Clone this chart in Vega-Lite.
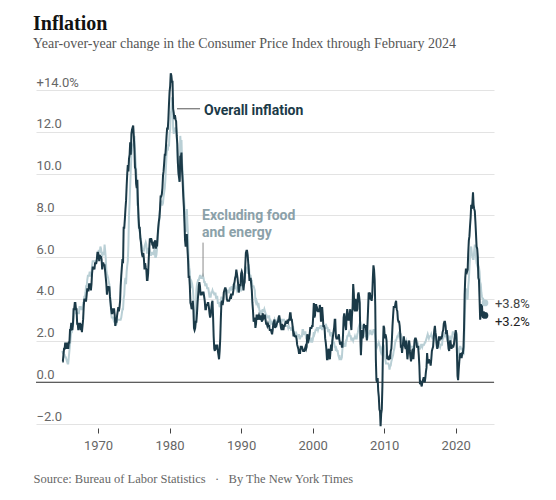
{
"$schema": "https://vega.github.io/schema/vega-lite/v6.json",
"width": 458, "height": 334,
"autosize": "none",
"padding": {"left": 36, "top": 90, "right": 62, "bottom": 76},
"background": "white",
"config": {"view": {"stroke": null}, "font": "Roboto"},
"title": {"text": "Inflation", "subtitle": "Year-over-year change in the Consumer Price Index through February 2024", "anchor": "start", "frame": "group", "dx": -3, "offset": 18, "font": "Liberation Serif", "fontSize": 20, "fontWeight": "bold", "color": "#121212", "subtitleFont": "Liberation Serif", "subtitleFontSize": 14, "subtitleColor": "#555555", "subtitlePadding": 3},
"datasets": {
"cpi": [
{"d":"1965-01","a":1.0,"c":1.5},{"d":"1965-02","a":1.0,"c":1.4},{"d":"1965-03","a":1.3,"c":1.4},{"d":"1965-04","a":1.6,"c":1.3},{"d":"1965-05","a":1.6,"c":1.3},{"d":"1965-06","a":1.9,"c":1.2},{"d":"1965-07","a":1.6,"c":1.2},{"d":"1965-08","a":1.9,"c":1.1},{"d":"1965-09","a":1.6,"c":1.0},{"d":"1965-10","a":1.9,"c":0.9},{"d":"1965-11","a":1.6,"c":0.9},{"d":"1965-12","a":1.9,"c":1.2},
{"d":"1966-01","a":1.9,"c":1.5},{"d":"1966-02","a":2.5,"c":1.8},{"d":"1966-03","a":2.5,"c":2.1},{"d":"1966-04","a":2.8,"c":2.4},{"d":"1966-05","a":2.8,"c":2.4},{"d":"1966-06","a":2.5,"c":2.7},{"d":"1966-07","a":2.8,"c":2.7},{"d":"1966-08","a":3.5,"c":3.0},{"d":"1966-09","a":3.5,"c":3.3},{"d":"1966-10","a":3.8,"c":3.3},{"d":"1966-11","a":3.8,"c":3.6},{"d":"1966-12","a":3.5,"c":3.3},
{"d":"1967-01","a":3.5,"c":3.3},{"d":"1967-02","a":2.8,"c":3.3},{"d":"1967-03","a":2.8,"c":3.3},{"d":"1967-04","a":2.5,"c":3.3},{"d":"1967-05","a":2.8,"c":3.3},{"d":"1967-06","a":2.8,"c":3.6},{"d":"1967-07","a":2.8,"c":3.6},{"d":"1967-08","a":2.5,"c":3.6},{"d":"1967-09","a":2.8,"c":3.5},{"d":"1967-10","a":2.4,"c":3.5},{"d":"1967-11","a":2.7,"c":3.5},{"d":"1967-12","a":3.0,"c":3.8},
{"d":"1968-01","a":3.6,"c":3.8},{"d":"1968-02","a":4.0,"c":4.1},{"d":"1968-03","a":3.9,"c":4.1},{"d":"1968-04","a":3.9,"c":4.3},{"d":"1968-05","a":3.9,"c":4.6},{"d":"1968-06","a":4.2,"c":4.6},{"d":"1968-07","a":4.5,"c":4.9},{"d":"1968-08","a":4.4,"c":5.1},{"d":"1968-09","a":4.4,"c":5.1},{"d":"1968-10","a":4.7,"c":5.1},{"d":"1968-11","a":4.7,"c":5.3},{"d":"1968-12","a":4.7,"c":5.1},
{"d":"1969-01","a":4.4,"c":5.1},{"d":"1969-02","a":4.7,"c":5.1},{"d":"1969-03","a":5.2,"c":5.6},{"d":"1969-04","a":5.5,"c":5.8},{"d":"1969-05","a":5.5,"c":5.8},{"d":"1969-06","a":5.5,"c":5.8},{"d":"1969-07","a":5.4,"c":5.8},{"d":"1969-08","a":5.7,"c":5.8},{"d":"1969-09","a":5.7,"c":5.8},{"d":"1969-10","a":5.7,"c":5.8},{"d":"1969-11","a":5.9,"c":5.8},{"d":"1969-12","a":6.2,"c":6.1},
{"d":"1970-01","a":6.2,"c":6.1},{"d":"1970-02","a":6.1,"c":6.3},{"d":"1970-03","a":5.8,"c":6.3},{"d":"1970-04","a":6.1,"c":6.2},{"d":"1970-05","a":6.0,"c":6.5},{"d":"1970-06","a":6.0,"c":6.4},{"d":"1970-07","a":5.9,"c":6.2},{"d":"1970-08","a":5.4,"c":6.0},{"d":"1970-09","a":5.7,"c":6.2},{"d":"1970-10","a":5.7,"c":6.2},{"d":"1970-11","a":5.6,"c":6.1},{"d":"1970-12","a":5.6,"c":6.6},
{"d":"1971-01","a":5.3,"c":6.3},{"d":"1971-02","a":5.0,"c":5.9},{"d":"1971-03","a":4.7,"c":5.4},{"d":"1971-04","a":4.2,"c":5.2},{"d":"1971-05","a":4.4,"c":5.1},{"d":"1971-06","a":4.6,"c":5.0},{"d":"1971-07","a":4.4,"c":4.8},{"d":"1971-08","a":4.6,"c":4.7},{"d":"1971-09","a":4.1,"c":4.2},{"d":"1971-10","a":3.8,"c":3.9},{"d":"1971-11","a":3.5,"c":3.3},{"d":"1971-12","a":3.3,"c":3.1},
{"d":"1972-01","a":3.3,"c":3.1},{"d":"1972-02","a":3.5,"c":3.1},{"d":"1972-03","a":3.5,"c":3.0},{"d":"1972-04","a":3.5,"c":2.9},{"d":"1972-05","a":3.2,"c":2.9},{"d":"1972-06","a":2.7,"c":2.7},{"d":"1972-07","a":2.9,"c":2.8},{"d":"1972-08","a":2.9,"c":2.8},{"d":"1972-09","a":3.2,"c":3.0},{"d":"1972-10","a":3.4,"c":3.0},{"d":"1972-11","a":3.6,"c":3.0},{"d":"1972-12","a":3.4,"c":3.0},
{"d":"1973-01","a":3.6,"c":3.0},{"d":"1973-02","a":3.9,"c":3.0},{"d":"1973-03","a":4.6,"c":3.0},{"d":"1973-04","a":5.1,"c":3.1},{"d":"1973-05","a":5.5,"c":3.3},{"d":"1973-06","a":5.9,"c":3.5},{"d":"1973-07","a":5.7,"c":3.5},{"d":"1973-08","a":7.4,"c":4.0},{"d":"1973-09","a":7.4,"c":4.2},{"d":"1973-10","a":7.8,"c":4.8},{"d":"1973-11","a":8.3,"c":5.0},{"d":"1973-12","a":8.7,"c":4.7},
{"d":"1974-01","a":9.4,"c":5.3},{"d":"1974-02","a":10.0,"c":5.6},{"d":"1974-03","a":10.4,"c":5.8},{"d":"1974-04","a":10.1,"c":6.6},{"d":"1974-05","a":10.7,"c":8.0},{"d":"1974-06","a":10.9,"c":8.6},{"d":"1974-07","a":11.5,"c":9.4},{"d":"1974-08","a":10.9,"c":10.2},{"d":"1974-09","a":11.9,"c":10.9},{"d":"1974-10","a":12.1,"c":11.1},{"d":"1974-11","a":12.2,"c":11.3},{"d":"1974-12","a":12.3,"c":11.4},
{"d":"1975-01","a":11.8,"c":11.5},{"d":"1975-02","a":11.2,"c":11.8},{"d":"1975-03","a":10.3,"c":11.1},{"d":"1975-04","a":10.2,"c":10.6},{"d":"1975-05","a":9.5,"c":10.2},{"d":"1975-06","a":9.3,"c":9.5},{"d":"1975-07","a":9.7,"c":8.5},{"d":"1975-08","a":8.6,"c":8.5},{"d":"1975-09","a":7.9,"c":7.5},{"d":"1975-10","a":7.4,"c":7.3},{"d":"1975-11","a":7.4,"c":7.2},{"d":"1975-12","a":6.9,"c":7.0},
{"d":"1976-01","a":6.7,"c":6.8},{"d":"1976-02","a":6.3,"c":6.6},{"d":"1976-03","a":6.1,"c":6.4},{"d":"1976-04","a":6.0,"c":6.3},{"d":"1976-05","a":6.2,"c":6.3},{"d":"1976-06","a":5.9,"c":6.3},{"d":"1976-07","a":5.4,"c":6.5},{"d":"1976-08","a":5.7,"c":6.6},{"d":"1976-09","a":5.5,"c":6.7},{"d":"1976-10","a":5.4,"c":6.6},{"d":"1976-11","a":4.9,"c":6.2},{"d":"1976-12","a":4.9,"c":6.2},
{"d":"1977-01","a":5.2,"c":6.4},{"d":"1977-02","a":5.9,"c":6.4},{"d":"1977-03","a":6.4,"c":6.4},{"d":"1977-04","a":6.9,"c":6.3},{"d":"1977-05","a":6.7,"c":6.1},{"d":"1977-06","a":6.9,"c":6.1},{"d":"1977-07","a":6.8,"c":6.2},{"d":"1977-08","a":6.6,"c":6.2},{"d":"1977-09","a":6.6,"c":6.2},{"d":"1977-10","a":6.4,"c":6.1},{"d":"1977-11","a":6.7,"c":6.3},{"d":"1977-12","a":6.7,"c":6.4},
{"d":"1978-01","a":6.8,"c":6.0},{"d":"1978-02","a":6.4,"c":6.0},{"d":"1978-03","a":6.6,"c":6.1},{"d":"1978-04","a":6.5,"c":6.4},{"d":"1978-05","a":7.0,"c":6.8},{"d":"1978-06","a":7.4,"c":7.2},{"d":"1978-07","a":7.7,"c":7.6},{"d":"1978-08","a":7.9,"c":7.8},{"d":"1978-09","a":8.3,"c":8.3},{"d":"1978-10","a":8.9,"c":8.6},{"d":"1978-11","a":8.9,"c":8.7},{"d":"1978-12","a":9.0,"c":8.5},
{"d":"1979-01","a":9.3,"c":8.5},{"d":"1979-02","a":9.9,"c":8.6},{"d":"1979-03","a":10.1,"c":8.9},{"d":"1979-04","a":10.5,"c":9.1},{"d":"1979-05","a":10.9,"c":9.3},{"d":"1979-06","a":10.9,"c":9.7},{"d":"1979-07","a":11.3,"c":10.3},{"d":"1979-08","a":11.8,"c":10.9},{"d":"1979-09","a":12.2,"c":11.2},{"d":"1979-10","a":12.1,"c":11.1},{"d":"1979-11","a":12.6,"c":11.4},{"d":"1979-12","a":13.3,"c":11.3},
{"d":"1980-01","a":13.9,"c":11.9},{"d":"1980-02","a":14.2,"c":12.1},{"d":"1980-03","a":14.8,"c":12.9},{"d":"1980-04","a":14.7,"c":13.0},{"d":"1980-05","a":14.4,"c":13.6},{"d":"1980-06","a":14.4,"c":13.6},{"d":"1980-07","a":13.1,"c":12.2},{"d":"1980-08","a":12.9,"c":11.9},{"d":"1980-09","a":12.6,"c":12.0},{"d":"1980-10","a":12.8,"c":12.2},{"d":"1980-11","a":12.6,"c":12.1},{"d":"1980-12","a":12.5,"c":12.2},
{"d":"1981-01","a":11.8,"c":11.9},{"d":"1981-02","a":11.4,"c":11.0},{"d":"1981-03","a":10.5,"c":10.5},{"d":"1981-04","a":10.0,"c":10.2},{"d":"1981-05","a":9.8,"c":9.6},{"d":"1981-06","a":9.6,"c":9.8},{"d":"1981-07","a":10.8,"c":11.8},{"d":"1981-08","a":10.8,"c":11.3},{"d":"1981-09","a":11.0,"c":11.6},{"d":"1981-10","a":10.1,"c":10.5},{"d":"1981-11","a":9.6,"c":10.1},{"d":"1981-12","a":8.9,"c":9.5},
{"d":"1982-01","a":8.4,"c":9.0},{"d":"1982-02","a":7.6,"c":8.4},{"d":"1982-03","a":6.8,"c":7.5},{"d":"1982-04","a":6.5,"c":7.2},{"d":"1982-05","a":6.7,"c":7.8},{"d":"1982-06","a":7.1,"c":8.3},{"d":"1982-07","a":6.4,"c":7.6},{"d":"1982-08","a":5.9,"c":7.0},{"d":"1982-09","a":5.0,"c":5.8},{"d":"1982-10","a":5.1,"c":5.5},{"d":"1982-11","a":4.6,"c":5.3},{"d":"1982-12","a":3.8,"c":4.5},
{"d":"1983-01","a":3.7,"c":4.7},{"d":"1983-02","a":3.5,"c":4.8},{"d":"1983-03","a":3.6,"c":4.7},{"d":"1983-04","a":3.9,"c":4.5},{"d":"1983-05","a":3.5,"c":4.1},{"d":"1983-06","a":2.6,"c":3.4},{"d":"1983-07","a":2.5,"c":3.0},{"d":"1983-08","a":2.6,"c":2.9},{"d":"1983-09","a":2.9,"c":2.9},{"d":"1983-10","a":2.9,"c":4.4},{"d":"1983-11","a":3.3,"c":4.7},{"d":"1983-12","a":3.8,"c":4.8},
{"d":"1984-01","a":4.2,"c":4.9},{"d":"1984-02","a":4.6,"c":4.9},{"d":"1984-03","a":4.8,"c":5.0},{"d":"1984-04","a":4.6,"c":5.1},{"d":"1984-05","a":4.2,"c":5.1},{"d":"1984-06","a":4.2,"c":5.0},{"d":"1984-07","a":4.2,"c":5.0},{"d":"1984-08","a":4.3,"c":5.0},{"d":"1984-09","a":4.3,"c":5.1},{"d":"1984-10","a":4.3,"c":5.0},{"d":"1984-11","a":4.1,"c":4.8},{"d":"1984-12","a":3.9,"c":4.8},
{"d":"1985-01","a":3.5,"c":4.6},{"d":"1985-02","a":3.5,"c":4.7},{"d":"1985-03","a":3.7,"c":4.7},{"d":"1985-04","a":3.7,"c":4.5},{"d":"1985-05","a":3.8,"c":4.5},{"d":"1985-06","a":3.8,"c":4.5},{"d":"1985-07","a":3.6,"c":4.3},{"d":"1985-08","a":3.3,"c":4.1},{"d":"1985-09","a":3.1,"c":4.1},{"d":"1985-10","a":3.2,"c":4.1},{"d":"1985-11","a":3.5,"c":4.3},{"d":"1985-12","a":3.8,"c":4.3},
{"d":"1986-01","a":3.9,"c":4.4},{"d":"1986-02","a":3.1,"c":4.3},{"d":"1986-03","a":2.2,"c":4.3},{"d":"1986-04","a":1.6,"c":4.2},{"d":"1986-05","a":1.5,"c":4.2},{"d":"1986-06","a":1.8,"c":4.3},{"d":"1986-07","a":1.6,"c":4.0},{"d":"1986-08","a":1.6,"c":4.1},{"d":"1986-09","a":1.8,"c":4.1},{"d":"1986-10","a":1.5,"c":3.8},{"d":"1986-11","a":1.3,"c":3.8},{"d":"1986-12","a":1.1,"c":3.8},
{"d":"1987-01","a":1.5,"c":3.6},{"d":"1987-02","a":2.1,"c":3.7},{"d":"1987-03","a":3.0,"c":3.9},{"d":"1987-04","a":3.8,"c":4.1},{"d":"1987-05","a":3.9,"c":3.9},{"d":"1987-06","a":3.7,"c":3.9},{"d":"1987-07","a":3.9,"c":4.0},{"d":"1987-08","a":4.3,"c":4.0},{"d":"1987-09","a":4.4,"c":4.2},{"d":"1987-10","a":4.5,"c":4.3},{"d":"1987-11","a":4.5,"c":4.3},{"d":"1987-12","a":4.4,"c":4.2},
{"d":"1988-01","a":4.0,"c":4.4},{"d":"1988-02","a":3.9,"c":4.4},{"d":"1988-03","a":3.9,"c":4.4},{"d":"1988-04","a":3.9,"c":4.3},{"d":"1988-05","a":3.9,"c":4.3},{"d":"1988-06","a":4.0,"c":4.5},{"d":"1988-07","a":4.1,"c":4.5},{"d":"1988-08","a":4.0,"c":4.4},{"d":"1988-09","a":4.2,"c":4.6},{"d":"1988-10","a":4.2,"c":4.5},{"d":"1988-11","a":4.2,"c":4.4},{"d":"1988-12","a":4.4,"c":4.7},
{"d":"1989-01","a":4.7,"c":4.5},{"d":"1989-02","a":4.8,"c":4.5},{"d":"1989-03","a":5.0,"c":4.5},{"d":"1989-04","a":5.1,"c":4.6},{"d":"1989-05","a":5.4,"c":4.5},{"d":"1989-06","a":5.2,"c":4.4},{"d":"1989-07","a":5.0,"c":4.5},{"d":"1989-08","a":4.7,"c":4.5},{"d":"1989-09","a":4.3,"c":4.3},{"d":"1989-10","a":4.5,"c":4.4},{"d":"1989-11","a":4.7,"c":4.4},{"d":"1989-12","a":4.6,"c":4.4},
{"d":"1990-01","a":5.2,"c":4.4},{"d":"1990-02","a":5.3,"c":4.6},{"d":"1990-03","a":5.2,"c":5.1},{"d":"1990-04","a":4.7,"c":4.9},{"d":"1990-05","a":4.4,"c":4.8},{"d":"1990-06","a":4.7,"c":5.0},{"d":"1990-07","a":4.8,"c":5.0},{"d":"1990-08","a":5.6,"c":5.5},{"d":"1990-09","a":6.2,"c":5.5},{"d":"1990-10","a":6.3,"c":5.3},{"d":"1990-11","a":6.3,"c":5.3},{"d":"1990-12","a":6.1,"c":5.2},
{"d":"1991-01","a":5.7,"c":5.6},{"d":"1991-02","a":5.3,"c":5.6},{"d":"1991-03","a":4.9,"c":5.2},{"d":"1991-04","a":4.9,"c":5.1},{"d":"1991-05","a":5.0,"c":5.1},{"d":"1991-06","a":4.7,"c":4.8},{"d":"1991-07","a":4.4,"c":4.9},{"d":"1991-08","a":3.8,"c":4.6},{"d":"1991-09","a":3.4,"c":4.6},{"d":"1991-10","a":2.9,"c":4.6},{"d":"1991-11","a":3.0,"c":4.5},{"d":"1991-12","a":3.1,"c":4.4},
{"d":"1992-01","a":2.6,"c":3.9},{"d":"1992-02","a":2.8,"c":3.8},{"d":"1992-03","a":3.2,"c":3.9},{"d":"1992-04","a":3.2,"c":3.8},{"d":"1992-05","a":3.0,"c":3.7},{"d":"1992-06","a":3.1,"c":3.8},{"d":"1992-07","a":3.2,"c":3.6},{"d":"1992-08","a":3.1,"c":3.4},{"d":"1992-09","a":3.0,"c":3.3},{"d":"1992-10","a":3.2,"c":3.4},{"d":"1992-11","a":3.0,"c":3.4},{"d":"1992-12","a":2.9,"c":3.3},
{"d":"1993-01","a":3.3,"c":3.5},{"d":"1993-02","a":3.2,"c":3.4},{"d":"1993-03","a":3.1,"c":3.4},{"d":"1993-04","a":3.2,"c":3.5},{"d":"1993-05","a":3.2,"c":3.4},{"d":"1993-06","a":3.0,"c":3.3},{"d":"1993-07","a":2.8,"c":3.2},{"d":"1993-08","a":2.8,"c":3.2},{"d":"1993-09","a":2.7,"c":3.1},{"d":"1993-10","a":2.8,"c":3.1},{"d":"1993-11","a":2.7,"c":3.1},{"d":"1993-12","a":2.7,"c":3.2},
{"d":"1994-01","a":2.5,"c":2.9},{"d":"1994-02","a":2.5,"c":2.8},{"d":"1994-03","a":2.5,"c":2.9},{"d":"1994-04","a":2.4,"c":2.8},{"d":"1994-05","a":2.3,"c":2.8},{"d":"1994-06","a":2.5,"c":2.9},{"d":"1994-07","a":2.8,"c":2.9},{"d":"1994-08","a":2.9,"c":2.9},{"d":"1994-09","a":3.0,"c":3.0},{"d":"1994-10","a":2.6,"c":2.9},{"d":"1994-11","a":2.7,"c":2.8},{"d":"1994-12","a":2.7,"c":2.6},
{"d":"1995-01","a":2.8,"c":2.9},{"d":"1995-02","a":2.9,"c":3.0},{"d":"1995-03","a":2.9,"c":3.0},{"d":"1995-04","a":3.1,"c":3.1},{"d":"1995-05","a":3.2,"c":3.1},{"d":"1995-06","a":3.0,"c":3.0},{"d":"1995-07","a":2.8,"c":3.0},{"d":"1995-08","a":2.6,"c":3.0},{"d":"1995-09","a":2.5,"c":2.9},{"d":"1995-10","a":2.8,"c":3.0},{"d":"1995-11","a":2.6,"c":3.0},{"d":"1995-12","a":2.5,"c":3.0},
{"d":"1996-01","a":2.7,"c":3.0},{"d":"1996-02","a":2.7,"c":2.9},{"d":"1996-03","a":2.8,"c":2.8},{"d":"1996-04","a":2.9,"c":2.7},{"d":"1996-05","a":2.9,"c":2.7},{"d":"1996-06","a":2.8,"c":2.7},{"d":"1996-07","a":3.0,"c":2.7},{"d":"1996-08","a":2.9,"c":2.6},{"d":"1996-09","a":3.0,"c":2.7},{"d":"1996-10","a":3.0,"c":2.6},{"d":"1996-11","a":3.3,"c":2.6},{"d":"1996-12","a":3.3,"c":2.6},
{"d":"1997-01","a":3.0,"c":2.5},{"d":"1997-02","a":3.0,"c":2.5},{"d":"1997-03","a":2.8,"c":2.5},{"d":"1997-04","a":2.5,"c":2.7},{"d":"1997-05","a":2.2,"c":2.5},{"d":"1997-06","a":2.3,"c":2.4},{"d":"1997-07","a":2.2,"c":2.4},{"d":"1997-08","a":2.2,"c":2.3},{"d":"1997-09","a":2.2,"c":2.2},{"d":"1997-10","a":2.1,"c":2.3},{"d":"1997-11","a":1.8,"c":2.2},{"d":"1997-12","a":1.7,"c":2.2},
{"d":"1998-01","a":1.6,"c":2.2},{"d":"1998-02","a":1.4,"c":2.3},{"d":"1998-03","a":1.4,"c":2.1},{"d":"1998-04","a":1.4,"c":2.1},{"d":"1998-05","a":1.7,"c":2.2},{"d":"1998-06","a":1.7,"c":2.2},{"d":"1998-07","a":1.7,"c":2.2},{"d":"1998-08","a":1.6,"c":2.5},{"d":"1998-09","a":1.5,"c":2.5},{"d":"1998-10","a":1.5,"c":2.3},{"d":"1998-11","a":1.5,"c":2.3},{"d":"1998-12","a":1.6,"c":2.4},
{"d":"1999-01","a":1.7,"c":2.4},{"d":"1999-02","a":1.6,"c":2.1},{"d":"1999-03","a":1.7,"c":2.1},{"d":"1999-04","a":2.3,"c":2.2},{"d":"1999-05","a":2.1,"c":2.0},{"d":"1999-06","a":2.0,"c":2.1},{"d":"1999-07","a":2.1,"c":2.1},{"d":"1999-08","a":2.3,"c":1.9},{"d":"1999-09","a":2.6,"c":2.0},{"d":"1999-10","a":2.6,"c":2.1},{"d":"1999-11","a":2.6,"c":2.1},{"d":"1999-12","a":2.7,"c":1.9},
{"d":"2000-01","a":2.7,"c":2.0},{"d":"2000-02","a":3.2,"c":2.2},{"d":"2000-03","a":3.8,"c":2.4},{"d":"2000-04","a":3.1,"c":2.3},{"d":"2000-05","a":3.2,"c":2.4},{"d":"2000-06","a":3.7,"c":2.5},{"d":"2000-07","a":3.7,"c":2.5},{"d":"2000-08","a":3.4,"c":2.6},{"d":"2000-09","a":3.5,"c":2.6},{"d":"2000-10","a":3.4,"c":2.5},{"d":"2000-11","a":3.4,"c":2.6},{"d":"2000-12","a":3.4,"c":2.6},
{"d":"2001-01","a":3.7,"c":2.6},{"d":"2001-02","a":3.5,"c":2.7},{"d":"2001-03","a":2.9,"c":2.7},{"d":"2001-04","a":3.3,"c":2.6},{"d":"2001-05","a":3.6,"c":2.5},{"d":"2001-06","a":3.2,"c":2.7},{"d":"2001-07","a":2.7,"c":2.7},{"d":"2001-08","a":2.7,"c":2.7},{"d":"2001-09","a":2.6,"c":2.6},{"d":"2001-10","a":2.1,"c":2.6},{"d":"2001-11","a":1.9,"c":2.8},{"d":"2001-12","a":1.6,"c":2.7},
{"d":"2002-01","a":1.1,"c":2.6},{"d":"2002-02","a":1.1,"c":2.6},{"d":"2002-03","a":1.5,"c":2.4},{"d":"2002-04","a":1.6,"c":2.5},{"d":"2002-05","a":1.2,"c":2.5},{"d":"2002-06","a":1.1,"c":2.3},{"d":"2002-07","a":1.5,"c":2.2},{"d":"2002-08","a":1.8,"c":2.4},{"d":"2002-09","a":1.5,"c":2.2},{"d":"2002-10","a":2.0,"c":2.2},{"d":"2002-11","a":2.2,"c":2.0},{"d":"2002-12","a":2.4,"c":1.9},
{"d":"2003-01","a":2.6,"c":1.9},{"d":"2003-02","a":3.0,"c":1.7},{"d":"2003-03","a":3.0,"c":1.7},{"d":"2003-04","a":2.2,"c":1.5},{"d":"2003-05","a":2.1,"c":1.6},{"d":"2003-06","a":2.1,"c":1.5},{"d":"2003-07","a":2.1,"c":1.5},{"d":"2003-08","a":2.2,"c":1.3},{"d":"2003-09","a":2.3,"c":1.2},{"d":"2003-10","a":2.0,"c":1.3},{"d":"2003-11","a":1.8,"c":1.1},{"d":"2003-12","a":1.9,"c":1.1},
{"d":"2004-01","a":1.9,"c":1.1},{"d":"2004-02","a":1.7,"c":1.2},{"d":"2004-03","a":1.7,"c":1.6},{"d":"2004-04","a":2.3,"c":1.8},{"d":"2004-05","a":3.1,"c":1.7},{"d":"2004-06","a":3.3,"c":1.9},{"d":"2004-07","a":3.0,"c":1.8},{"d":"2004-08","a":2.7,"c":1.7},{"d":"2004-09","a":2.5,"c":2.0},{"d":"2004-10","a":3.2,"c":2.0},{"d":"2004-11","a":3.5,"c":2.2},{"d":"2004-12","a":3.3,"c":2.2},
{"d":"2005-01","a":3.0,"c":2.3},{"d":"2005-02","a":3.0,"c":2.4},{"d":"2005-03","a":3.1,"c":2.3},{"d":"2005-04","a":3.5,"c":2.2},{"d":"2005-05","a":2.8,"c":2.2},{"d":"2005-06","a":2.5,"c":2.0},{"d":"2005-07","a":3.2,"c":2.1},{"d":"2005-08","a":3.6,"c":2.1},{"d":"2005-09","a":4.7,"c":2.0},{"d":"2005-10","a":4.3,"c":2.1},{"d":"2005-11","a":3.5,"c":2.1},{"d":"2005-12","a":3.4,"c":2.2},
{"d":"2006-01","a":4.0,"c":2.1},{"d":"2006-02","a":3.6,"c":2.1},{"d":"2006-03","a":3.4,"c":2.1},{"d":"2006-04","a":3.5,"c":2.3},{"d":"2006-05","a":4.2,"c":2.4},{"d":"2006-06","a":4.3,"c":2.6},{"d":"2006-07","a":4.1,"c":2.7},{"d":"2006-08","a":3.8,"c":2.8},{"d":"2006-09","a":2.1,"c":2.9},{"d":"2006-10","a":1.3,"c":2.7},{"d":"2006-11","a":2.0,"c":2.6},{"d":"2006-12","a":2.5,"c":2.6},
{"d":"2007-01","a":2.1,"c":2.7},{"d":"2007-02","a":2.4,"c":2.7},{"d":"2007-03","a":2.8,"c":2.5},{"d":"2007-04","a":2.6,"c":2.3},{"d":"2007-05","a":2.7,"c":2.2},{"d":"2007-06","a":2.7,"c":2.2},{"d":"2007-07","a":2.4,"c":2.2},{"d":"2007-08","a":2.0,"c":2.1},{"d":"2007-09","a":2.8,"c":2.1},{"d":"2007-10","a":3.5,"c":2.2},{"d":"2007-11","a":4.3,"c":2.3},{"d":"2007-12","a":4.1,"c":2.4},
{"d":"2008-01","a":4.3,"c":2.5},{"d":"2008-02","a":4.0,"c":2.3},{"d":"2008-03","a":4.0,"c":2.4},{"d":"2008-04","a":3.9,"c":2.3},{"d":"2008-05","a":4.2,"c":2.3},{"d":"2008-06","a":5.0,"c":2.4},{"d":"2008-07","a":5.6,"c":2.5},{"d":"2008-08","a":5.4,"c":2.5},{"d":"2008-09","a":4.9,"c":2.5},{"d":"2008-10","a":3.7,"c":2.2},{"d":"2008-11","a":1.1,"c":2.0},{"d":"2008-12","a":0.1,"c":1.8},
{"d":"2009-01","a":0.0,"c":1.7},{"d":"2009-02","a":0.2,"c":1.8},{"d":"2009-03","a":-0.4,"c":1.8},{"d":"2009-04","a":-0.7,"c":1.9},{"d":"2009-05","a":-1.3,"c":1.8},{"d":"2009-06","a":-1.4,"c":1.7},{"d":"2009-07","a":-2.1,"c":1.5},{"d":"2009-08","a":-1.5,"c":1.4},{"d":"2009-09","a":-1.3,"c":1.5},{"d":"2009-10","a":-0.2,"c":1.7},{"d":"2009-11","a":1.8,"c":1.7},{"d":"2009-12","a":2.7,"c":1.8},
{"d":"2010-01","a":2.6,"c":1.6},{"d":"2010-02","a":2.1,"c":1.3},{"d":"2010-03","a":2.3,"c":1.1},{"d":"2010-04","a":2.2,"c":0.9},{"d":"2010-05","a":2.0,"c":0.9},{"d":"2010-06","a":1.1,"c":0.9},{"d":"2010-07","a":1.2,"c":0.9},{"d":"2010-08","a":1.1,"c":0.9},{"d":"2010-09","a":1.1,"c":0.8},{"d":"2010-10","a":1.2,"c":0.6},{"d":"2010-11","a":1.1,"c":0.8},{"d":"2010-12","a":1.5,"c":0.8},
{"d":"2011-01","a":1.6,"c":1.0},{"d":"2011-02","a":2.1,"c":1.1},{"d":"2011-03","a":2.7,"c":1.2},{"d":"2011-04","a":3.2,"c":1.3},{"d":"2011-05","a":3.6,"c":1.5},{"d":"2011-06","a":3.6,"c":1.6},{"d":"2011-07","a":3.6,"c":1.8},{"d":"2011-08","a":3.8,"c":2.0},{"d":"2011-09","a":3.9,"c":2.0},{"d":"2011-10","a":3.5,"c":2.1},{"d":"2011-11","a":3.4,"c":2.2},{"d":"2011-12","a":3.0,"c":2.2},
{"d":"2012-01","a":2.9,"c":2.3},{"d":"2012-02","a":2.9,"c":2.2},{"d":"2012-03","a":2.7,"c":2.3},{"d":"2012-04","a":2.3,"c":2.3},{"d":"2012-05","a":1.7,"c":2.3},{"d":"2012-06","a":1.7,"c":2.2},{"d":"2012-07","a":1.4,"c":2.1},{"d":"2012-08","a":1.7,"c":1.9},{"d":"2012-09","a":2.0,"c":2.0},{"d":"2012-10","a":2.2,"c":2.0},{"d":"2012-11","a":1.8,"c":1.9},{"d":"2012-12","a":1.7,"c":1.9},
{"d":"2013-01","a":1.6,"c":1.9},{"d":"2013-02","a":2.0,"c":2.0},{"d":"2013-03","a":1.5,"c":1.9},{"d":"2013-04","a":1.1,"c":1.7},{"d":"2013-05","a":1.4,"c":1.7},{"d":"2013-06","a":1.8,"c":1.6},{"d":"2013-07","a":2.0,"c":1.7},{"d":"2013-08","a":1.5,"c":1.8},{"d":"2013-09","a":1.2,"c":1.7},{"d":"2013-10","a":1.0,"c":1.7},{"d":"2013-11","a":1.2,"c":1.7},{"d":"2013-12","a":1.5,"c":1.7},
{"d":"2014-01","a":1.6,"c":1.6},{"d":"2014-02","a":1.1,"c":1.6},{"d":"2014-03","a":1.5,"c":1.7},{"d":"2014-04","a":2.0,"c":1.8},{"d":"2014-05","a":2.1,"c":2.0},{"d":"2014-06","a":2.1,"c":1.9},{"d":"2014-07","a":2.0,"c":1.9},{"d":"2014-08","a":1.7,"c":1.7},{"d":"2014-09","a":1.7,"c":1.7},{"d":"2014-10","a":1.7,"c":1.8},{"d":"2014-11","a":1.3,"c":1.7},{"d":"2014-12","a":0.8,"c":1.6},
{"d":"2015-01","a":-0.1,"c":1.6},{"d":"2015-02","a":0.0,"c":1.7},{"d":"2015-03","a":-0.1,"c":1.8},{"d":"2015-04","a":-0.2,"c":1.8},{"d":"2015-05","a":0.0,"c":1.7},{"d":"2015-06","a":0.1,"c":1.8},{"d":"2015-07","a":0.2,"c":1.8},{"d":"2015-08","a":0.2,"c":1.8},{"d":"2015-09","a":0.0,"c":1.9},{"d":"2015-10","a":0.2,"c":1.9},{"d":"2015-11","a":0.5,"c":2.0},{"d":"2015-12","a":0.7,"c":2.1},
{"d":"2016-01","a":1.4,"c":2.2},{"d":"2016-02","a":1.0,"c":2.3},{"d":"2016-03","a":0.9,"c":2.2},{"d":"2016-04","a":1.1,"c":2.1},{"d":"2016-05","a":1.0,"c":2.2},{"d":"2016-06","a":1.0,"c":2.2},{"d":"2016-07","a":0.8,"c":2.2},{"d":"2016-08","a":1.1,"c":2.3},{"d":"2016-09","a":1.5,"c":2.2},{"d":"2016-10","a":1.6,"c":2.1},{"d":"2016-11","a":1.7,"c":2.1},{"d":"2016-12","a":2.1,"c":2.2},
{"d":"2017-01","a":2.5,"c":2.3},{"d":"2017-02","a":2.7,"c":2.2},{"d":"2017-03","a":2.4,"c":2.0},{"d":"2017-04","a":2.2,"c":1.9},{"d":"2017-05","a":1.9,"c":1.7},{"d":"2017-06","a":1.6,"c":1.7},{"d":"2017-07","a":1.7,"c":1.7},{"d":"2017-08","a":1.9,"c":1.7},{"d":"2017-09","a":2.2,"c":1.7},{"d":"2017-10","a":2.0,"c":1.8},{"d":"2017-11","a":2.2,"c":1.7},{"d":"2017-12","a":2.1,"c":1.8},
{"d":"2018-01","a":2.1,"c":1.8},{"d":"2018-02","a":2.2,"c":1.8},{"d":"2018-03","a":2.4,"c":2.1},{"d":"2018-04","a":2.5,"c":2.1},{"d":"2018-05","a":2.8,"c":2.2},{"d":"2018-06","a":2.9,"c":2.3},{"d":"2018-07","a":2.9,"c":2.4},{"d":"2018-08","a":2.7,"c":2.2},{"d":"2018-09","a":2.3,"c":2.2},{"d":"2018-10","a":2.5,"c":2.1},{"d":"2018-11","a":2.2,"c":2.2},{"d":"2018-12","a":1.9,"c":2.2},
{"d":"2019-01","a":1.6,"c":2.2},{"d":"2019-02","a":1.5,"c":2.1},{"d":"2019-03","a":1.9,"c":2.0},{"d":"2019-04","a":2.0,"c":2.1},{"d":"2019-05","a":1.8,"c":2.0},{"d":"2019-06","a":1.6,"c":2.1},{"d":"2019-07","a":1.8,"c":2.2},{"d":"2019-08","a":1.7,"c":2.4},{"d":"2019-09","a":1.7,"c":2.4},{"d":"2019-10","a":1.8,"c":2.3},{"d":"2019-11","a":2.1,"c":2.3},{"d":"2019-12","a":2.3,"c":2.3},
{"d":"2020-01","a":2.5,"c":2.3},{"d":"2020-02","a":2.3,"c":2.4},{"d":"2020-03","a":1.5,"c":2.1},{"d":"2020-04","a":0.3,"c":1.4},{"d":"2020-05","a":0.1,"c":1.2},{"d":"2020-06","a":0.6,"c":1.2},{"d":"2020-07","a":1.0,"c":1.6},{"d":"2020-08","a":1.3,"c":1.7},{"d":"2020-09","a":1.4,"c":1.7},{"d":"2020-10","a":1.2,"c":1.6},{"d":"2020-11","a":1.2,"c":1.6},{"d":"2020-12","a":1.4,"c":1.6},
{"d":"2021-01","a":1.4,"c":1.4},{"d":"2021-02","a":1.7,"c":1.3},{"d":"2021-03","a":2.6,"c":1.6},{"d":"2021-04","a":4.2,"c":3.0},{"d":"2021-05","a":5.0,"c":3.8},{"d":"2021-06","a":5.4,"c":4.5},{"d":"2021-07","a":5.4,"c":4.3},{"d":"2021-08","a":5.3,"c":4.0},{"d":"2021-09","a":5.4,"c":4.0},{"d":"2021-10","a":6.2,"c":4.6},{"d":"2021-11","a":6.8,"c":4.9},{"d":"2021-12","a":7.0,"c":5.5},
{"d":"2022-01","a":7.5,"c":6.0},{"d":"2022-02","a":7.9,"c":6.4},{"d":"2022-03","a":8.5,"c":6.5},{"d":"2022-04","a":8.3,"c":6.2},{"d":"2022-05","a":8.6,"c":6.0},{"d":"2022-06","a":9.1,"c":5.9},{"d":"2022-07","a":8.5,"c":5.9},{"d":"2022-08","a":8.3,"c":6.3},{"d":"2022-09","a":8.2,"c":6.6},{"d":"2022-10","a":7.7,"c":6.3},{"d":"2022-11","a":7.1,"c":6.0},{"d":"2022-12","a":6.5,"c":5.7},
{"d":"2023-01","a":6.4,"c":5.6},{"d":"2023-02","a":6.0,"c":5.5},{"d":"2023-03","a":5.0,"c":5.6},{"d":"2023-04","a":4.9,"c":5.5},{"d":"2023-05","a":4.0,"c":5.3},{"d":"2023-06","a":3.0,"c":4.8},{"d":"2023-07","a":3.2,"c":4.7},{"d":"2023-08","a":3.7,"c":4.3},{"d":"2023-09","a":3.7,"c":4.1},{"d":"2023-10","a":3.2,"c":4.0},{"d":"2023-11","a":3.1,"c":4.0},{"d":"2023-12","a":3.4,"c":3.9},
{"d":"2024-01","a":3.1,"c":3.9},{"d":"2024-02","a":3.2,"c":3.8}
],
"ends": [
{"d":"2024-02","v":3.8,"s":"core","l":"+3.8%"},
{"d":"2024-02","v":3.2,"s":"all","l":"+3.2%"}
]
},
"layer": [
{
"data": {"name": "cpi"},
"mark": {"type": "line", "color": "#b9cfd5", "strokeWidth": 2, "clip": false},
"encoding": {
"x": {"field": "d", "type": "temporal", "title": "Source: Bureau of Labor Statistics\u00a0\u00a0\u00a0\u00b7\u00a0\u00a0\u00a0By The New York Times",
 "scale": {"domain": [{"year": 1961, "month": 5, "date": 1}, {"year": 2025, "month": 5, "date": 8}]},
 "axis": {"values": [{"year": 1970}, {"year": 1980}, {"year": 1990}, {"year": 2000}, {"year": 2010}, {"year": 2020}],
  "format": "%Y", "domain": false, "grid": false, "ticks": true, "tickSize": 5, "tickColor": "#444444", "tickWidth": 1,
  "offset": 4, "labelPadding": 6, "labelFont": "Roboto", "labelFontSize": 13, "labelColor": "#666666",
  "titleFont": "Liberation Serif", "titleFontSize": 12.5, "titleFontWeight": "normal", "titleColor": "#666666",
  "titleAnchor": "start", "titleAlign": "left", "titleX": -3, "titleY": 54, "titleBaseline": "alphabetic"}},
"y": {"field": "c", "type": "quantitative", "title": null,
 "scale": {"domain": [-2, 14], "nice": false, "zero": false},
 "axis": {"values": [-2, 0, 2, 4, 6, 8, 10, 12, 14], "domain": false, "ticks": false, "tickSize": 0,
  "grid": true, "gridColor": "#e3e3e3", "gridWidth": 1,
  "labelAlign": "left", "labelBaseline": "alphabetic", "labelPadding": 0, "labelOffset": -4,
  "labelFont": "Roboto", "labelFontSize": 13, "labelColor": "#666666",
  "labelExpr": "datum.value == 14 ? '+14.0%' : replace(format(datum.value, '.1f'), '-', '\u2212')"}}
}
},
{
"data": {"values": [{"z": 0}]},
"mark": {"type": "rule", "color": "#333333", "strokeWidth": 1},
"encoding": {"y": {"field": "z", "type": "quantitative", "title": null}}
},
{
"data": {"name": "cpi"},
"mark": {"type": "line", "color": "#1b3a48", "strokeWidth": 2, "clip": false},
"encoding": {
"x": {"field": "d", "type": "temporal", "title": "Source: Bureau of Labor Statistics\u00a0\u00a0\u00a0\u00b7\u00a0\u00a0\u00a0By The New York Times"},
"y": {"field": "a", "type": "quantitative", "title": null}
}
},
{
"data": {"name": "ends"},
"mark": {"type": "point", "filled": true, "opacity": 1, "size": 45},
"encoding": {
"x": {"field": "d", "type": "temporal", "title": "Source: Bureau of Labor Statistics\u00a0\u00a0\u00a0\u00b7\u00a0\u00a0\u00a0By The New York Times"},
"y": {"field": "v", "type": "quantitative", "title": null},
"color": {"field": "s", "type": "nominal", "scale": {"domain": ["core", "all"], "range": ["#b9cfd5", "#1b3a48"]}, "legend": null}
}
},
{
"data": {"name": "ends"},
"transform": [{"filter": "datum.s == 'core'"}],
"mark": {"type": "text", "align": "left", "baseline": "middle", "dx": 10, "dy": 1, "font": "Roboto", "fontSize": 13, "color": "#444444"},
"encoding": {
"x": {"field": "d", "type": "temporal", "title": "Source: Bureau of Labor Statistics\u00a0\u00a0\u00a0\u00b7\u00a0\u00a0\u00a0By The New York Times"},
"y": {"field": "v", "type": "quantitative", "title": null},
"text": {"field": "l"}
}
},
{
"data": {"name": "ends"},
"transform": [{"filter": "datum.s == 'all'"}],
"mark": {"type": "text", "align": "left", "baseline": "middle", "dx": 10, "dy": 7, "font": "Roboto", "fontSize": 13, "color": "#222222"},
"encoding": {
"x": {"field": "d", "type": "temporal", "title": "Source: Bureau of Labor Statistics\u00a0\u00a0\u00a0\u00b7\u00a0\u00a0\u00a0By The New York Times"},
"y": {"field": "v", "type": "quantitative", "title": null},
"text": {"field": "l"}
}
},
{
"data": {"values": [{"d": "1981-01-15", "d2": "1984-04-05", "v": 13.1, "v2": 13.1}]},
"mark": {"type": "rule", "color": "#555555", "strokeWidth": 1},
"encoding": {
"x": {"field": "d", "type": "temporal", "title": "Source: Bureau of Labor Statistics\u00a0\u00a0\u00a0\u00b7\u00a0\u00a0\u00a0By The New York Times"}, "x2": {"field": "d2"},
"y": {"field": "v", "type": "quantitative", "title": null}, "y2": {"field": "v2"}
}
},
{
"data": {"values": [{"d": "1984-09-05", "d2": "1984-09-05", "v": 6.69, "v2": 5.06}]},
"mark": {"type": "rule", "color": "#8a8a8a", "strokeWidth": 1},
"encoding": {
"x": {"field": "d", "type": "temporal", "title": "Source: Bureau of Labor Statistics\u00a0\u00a0\u00a0\u00b7\u00a0\u00a0\u00a0By The New York Times"}, "x2": {"field": "d2"},
"y": {"field": "v", "type": "quantitative", "title": null}, "y2": {"field": "v2"}
}
},
{
"data": {"values": [{"d": "1984-10-27", "v": 12.82, "l": "Overall inflation"}]},
"mark": {"type": "text", "align": "left", "baseline": "alphabetic", "font": "Roboto", "fontSize": 14, "fontWeight": "bold", "color": "#1b3a48"},
"encoding": {
"x": {"field": "d", "type": "temporal", "title": "Source: Bureau of Labor Statistics\u00a0\u00a0\u00a0\u00b7\u00a0\u00a0\u00a0By The New York Times"},
"y": {"field": "v", "type": "quantitative", "title": null},
"text": {"field": "l"}
}
},
{
"data": {"values": [{"d": "1984-07-15", "v": 7.79, "l": "Excluding food\nand energy"}]},
"mark": {"type": "text", "align": "left", "baseline": "alphabetic", "font": "Roboto", "fontSize": 14, "fontWeight": "bold", "color": "#8ba1a9", "lineBreak": "\n", "lineHeight": 17},
"encoding": {
"x": {"field": "d", "type": "temporal", "title": "Source: Bureau of Labor Statistics\u00a0\u00a0\u00a0\u00b7\u00a0\u00a0\u00a0By The New York Times"},
"y": {"field": "v", "type": "quantitative", "title": null},
"text": {"field": "l"}
}
}
]
}
